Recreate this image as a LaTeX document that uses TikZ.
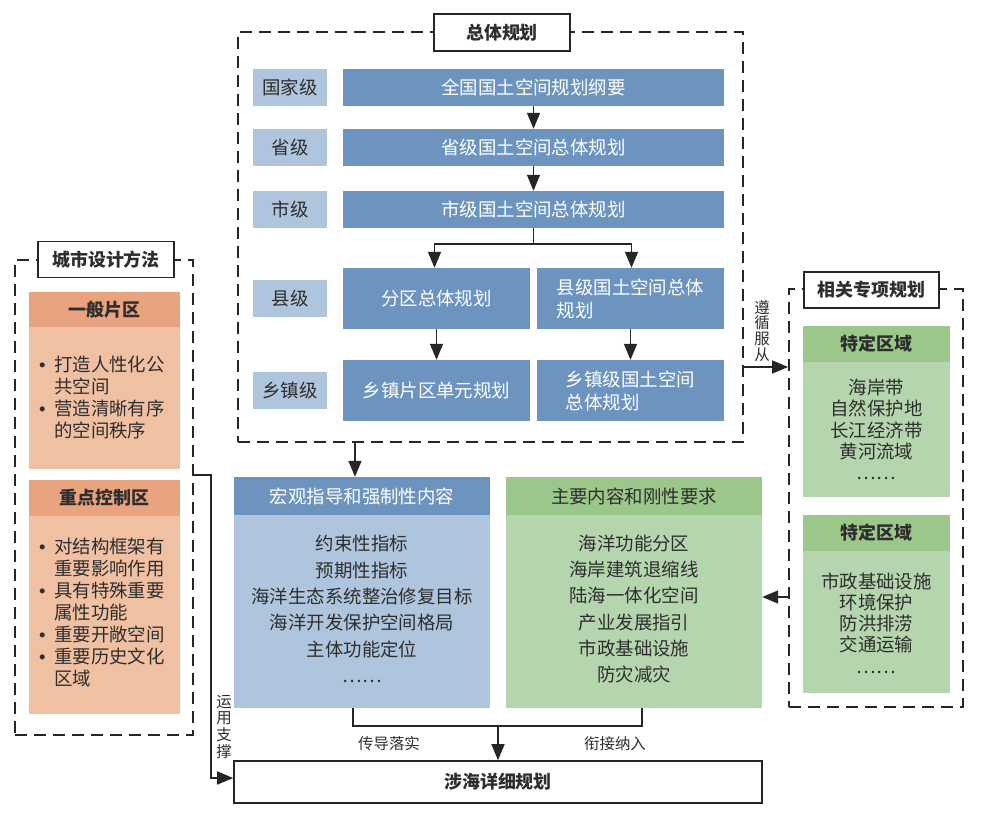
\documentclass[tikz,border=0pt]{standalone}
\usepackage{fontspec}
\setmainfont{Noto Sans CJK SC}
\newfontfamily\latinf{Liberation Sans}
\usetikzlibrary{arrows.meta}
\definecolor{dblue}{HTML}{6C94BF}
\definecolor{lblue}{HTML}{AFC5DD}
\definecolor{ghead}{HTML}{9CC78A}
\definecolor{gbody}{HTML}{B5D5AE}
\definecolor{ohead}{HTML}{E9A47F}
\definecolor{obody}{HTML}{F0C0A3}
\definecolor{linec}{HTML}{262626}
\definecolor{txt}{HTML}{2E2E2E}
\newcommand\myfs{\fontsize{18.5}{23}\selectfont}
\newcommand\mybul{\makebox[17bp][l]{\hspace{2bp}{\latinf •}}}
\tikzset{
 dbox/.style={draw=linec, line width=1.8bp, dash pattern=on 12bp off 7bp, inner sep=0pt},
 ttl/.style={draw=linec, line width=1.6bp, fill=white, font=\fontsize{18}{20}\selectfont\bfseries, text=txt, inner sep=0pt},
 lvl/.style={fill=lblue, minimum width=74bp, minimum height=37bp, inner sep=0pt, text=txt, font=\myfs},
 mb/.style={fill=dblue, text=white, inner sep=0pt, font=\myfs},
 hd/.style={inner sep=0pt, text=txt, font=\fontsize{18}{20}\selectfont\bfseries},
 arr/.style={draw=linec, line width=1.6bp, -{Triangle[length=16bp,width=13bp]}},
 ln/.style={draw=linec, line width=1.6bp},
 sm/.style={font=\fontsize{15.5}{17}\selectfont, text=txt, inner sep=0pt},
 bt/.style={inner sep=0pt, text=txt, align=center},
}
\begin{document}
\begin{tikzpicture}[x=1bp,y=-1bp]
\useasboundingbox (0,0) rectangle (981,813);
% ---------- 总体规划 ----------
\node[dbox, minimum width=505bp, minimum height=410bp] (zt) at (490.5,237) {};
\node[ttl, minimum width=136bp, minimum height=37bp] (ztt) at (502,32.5) {总体规划};
\node[lvl] (v1) at (290,87.5) {国家级};
\node[lvl] (v2) at (290,147.5) {省级};
\node[lvl] (v3) at (290,209.5) {市级};
\node[lvl] (v4) at (290,298.5) {县级};
\node[lvl] (v5) at (290,390.5) {乡镇级};
\node[mb, minimum width=381bp, minimum height=37bp] (r1) at (533.5,87.5) {全国国土空间规划纲要};
\node[mb, minimum width=381bp, minimum height=37bp] (r2) at (533.5,147.5) {省级国土空间总体规划};
\node[mb, minimum width=381bp, minimum height=37bp] (r3) at (533.5,209.5) {市级国土空间总体规划};
\node[mb, minimum width=187bp, minimum height=61bp] (c1) at (436.5,298.5) {分区总体规划};
\node[mb, minimum width=187bp, minimum height=61bp, align=left] (c2) at (630.5,298.5) {县级国土空间总体\\规划};
\node[mb, minimum width=187bp, minimum height=61bp] (t1) at (436.5,390.5) {乡镇片区单元规划};
\node[mb, minimum width=187bp, minimum height=61bp, align=left] (t2) at (630.5,390.5) {乡镇级国土空间\\总体规划};
\draw[arr] (r1.south) -- (r2.north);
\draw[arr] (r2.south) -- (r3.north);
\path (r3.south) -- ++(0,16) coordinate (br);
\draw[ln] (r3.south) -- (br);
\draw[arr] (br) -| ([xshift=-2bp]c1.north);
\draw[arr] (br) -| ([xshift=1bp]c2.north);
\draw[arr] (c1.south) -- (t1.north);
\draw[arr] (c2.south) -- (t2.north);
% ---------- 城市设计方法 ----------
\node[dbox, minimum width=178bp, minimum height=475bp] (cs) at (104,497.5) {};
\node[ttl, minimum width=136bp, minimum height=36bp] (cst) at (106,259.5) {城市设计方法};
\node[fill=ohead, minimum width=151bp, minimum height=35bp, hd] (oh1) at (104.5,309.5) {一般片区};
\node[fill=obody, minimum width=151bp, minimum height=142bp, inner sep=0pt] (ob1) at (104.5,398) {};
\node[fill=ohead, minimum width=151bp, minimum height=36bp, hd] (oh2) at (104.5,498) {重点控制区};
\node[fill=obody, minimum width=151bp, minimum height=198bp, inner sep=0pt] (ob2) at (104.5,615) {};
\node[inner sep=0pt, text=txt, anchor=west, font=\fontsize{18.5}{21.5}\selectfont] (ot1) at (37,400) {%
\begin{tabular}{@{}l@{}l@{}}
\mybul&打造人性化公\\
&共空间\\
\mybul&营造清晰有序\\
&的空间秩序
\end{tabular}};
\node[inner sep=0pt, text=txt, anchor=west, font=\fontsize{18.5}{21.4}\selectfont] (ot2) at (37,615) {%
\begin{tabular}{@{}l@{}l@{}}
\mybul&对结构框架有\\
&重要影响作用\\
\mybul&具有特殊重要\\
&属性功能\\
\mybul&重要开敞空间\\
\mybul&重要历史文化\\
&区域
\end{tabular}};
% ---------- 相关专项规划 ----------
\node[dbox, minimum width=174bp, minimum height=418bp] (rp) at (876,498) {};
\node[ttl, minimum width=135bp, minimum height=36bp] (rpt) at (871.5,290) {相关专项规划};
\node[fill=ghead, minimum width=147bp, minimum height=36bp, hd] (gh1) at (876.5,344) {特定区域};
\node[fill=gbody, minimum width=147bp, minimum height=135bp, inner sep=0pt] (gb1) at (876.5,429.5) {};
\node[bt, font=\fontsize{18.5}{21.3}\selectfont] (gt1) at (876.5,429.5) {海岸带\\自然保护地\\长江经济带\\黄河流域\\……};
\node[fill=ghead, minimum width=147bp, minimum height=36bp, hd] (gh2) at (876.5,533) {特定区域};
\node[fill=gbody, minimum width=147bp, minimum height=142bp, inner sep=0pt] (gb2) at (876.5,622) {};
\node[bt, font=\fontsize{18.5}{21.3}\selectfont] (gt2) at (876.5,623) {市政基础设施\\环境保护\\防洪排涝\\交通运输\\……};
% ---------- middle boxes ----------
\node[fill=dblue, minimum width=256bp, minimum height=38bp, inner sep=0pt, text=white, font=\myfs] (bh) at (362,496) {宏观指导和强制性内容};
\node[fill=lblue, minimum width=256bp, minimum height=193bp, inner sep=0pt] (bb) at (362,611.5) {};
\node[bt, font=\fontsize{18.5}{26.4}\selectfont] (btx) at (362,609) {约束性指标\\预期性指标\\海洋生态系统整治修复目标\\海洋开发保护空间格局\\主体功能定位\\……};
\node[fill=ghead, minimum width=256bp, minimum height=38bp, inner sep=0pt, text=txt, font=\myfs] (gh) at (634,496) {主要内容和刚性要求};
\node[fill=gbody, minimum width=256bp, minimum height=193bp, inner sep=0pt] (gb) at (634,611.5) {};
\node[bt, font=\fontsize{18.5}{26.4}\selectfont] (gtx) at (634,609) {海洋功能分区\\海岸建筑退缩线\\陆海一体化空间\\产业发展指引\\市政基础设施\\防灾减灾};
\node[draw=linec, line width=1.6bp, fill=white, minimum width=528bp, minimum height=42bp, inner sep=0pt, text=txt, font=\fontsize{18}{20}\selectfont\bfseries] (dx) at (498,782) {涉海详细规划};
% ---------- connectors ----------
\draw[arr] ([xshift=-135.5bp]zt.south) -- ([xshift=-135.5bp]zt.south |- bh.north);
\path ([xshift=-9bp]bb.south) -- ++(0,18) coordinate (mj);
\draw[ln] ([xshift=-9bp]bb.south) -- (mj) -| ([xshift=8bp]gb.south);
\draw[arr] (mj -| dx.north) -- (dx.north);
\node[sm] (l1) at (389,744) {传导落实};
\node[sm] (l2) at (615,744) {衔接纳入};
\draw[arr] ([yshift=22.5bp]cs.east) -- ++(17,0) |- ([yshift=4bp]dx.west);
\node[sm, align=center, font=\fontsize{15.5}{17}\selectfont] (l3) at (224,727) {运\\用\\支\\撑};
\draw[arr] ([yshift=-130bp]zt.east) -- ([yshift=-130bp]zt.east -| rp.west);
\node[sm, align=center, font=\fontsize{15.5}{16}\selectfont] (l4) at (762,331) {遵\\循\\服\\从};
\draw[arr] ([yshift=-99bp]rp.west) -- ([yshift=-99bp]rp.west -| gb.east);
\end{tikzpicture}
\end{document}
